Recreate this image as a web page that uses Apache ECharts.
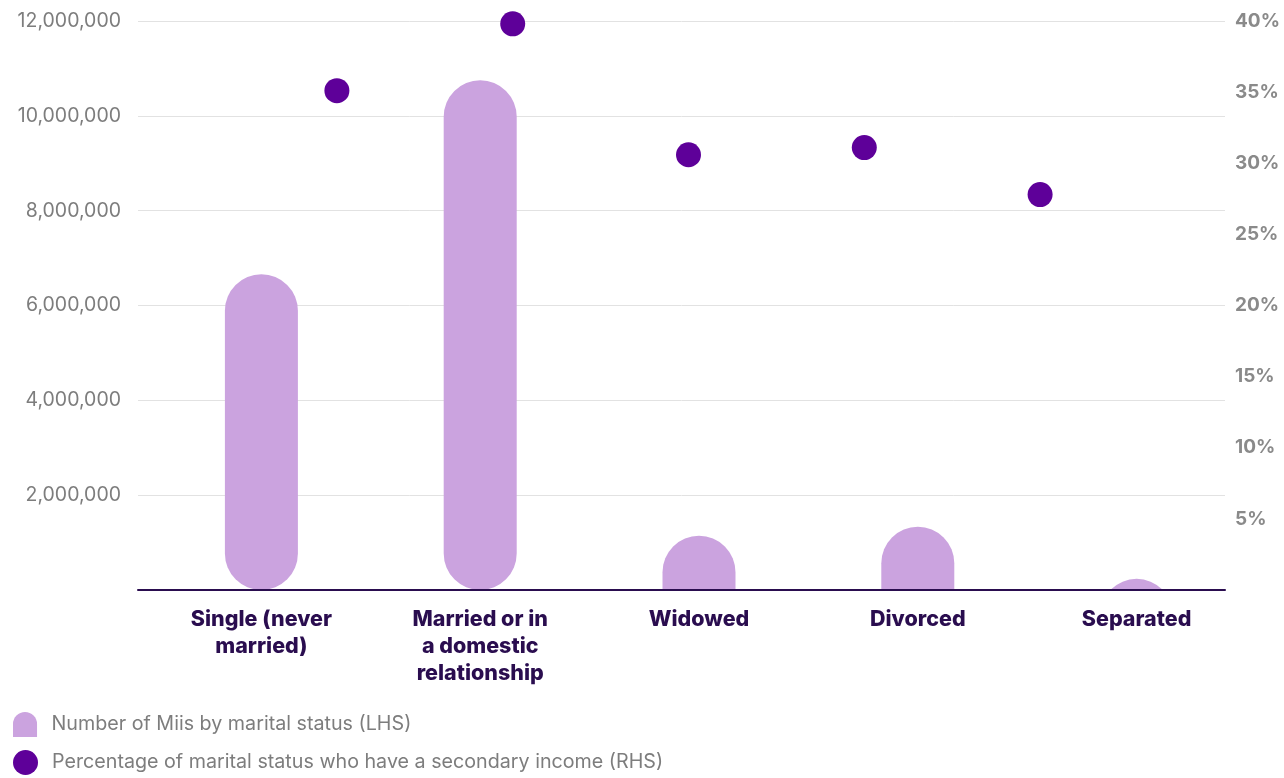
<!DOCTYPE html>
<html>
<head>
<meta charset="utf-8">
<script src="https://cdn.jsdelivr.net/npm/echarts@6/dist/echarts.min.js"></script>
<style>
  html, body { margin: 0; padding: 0; background: #ffffff; }
  #chart { width: 1284px; height: 778px; }
</style>
</head>
<body>
<div id="chart"></div>
<script>
// Marital status categories (label lines broken as displayed)
const categories = [
  'Single (never\nmarried)',
  'Married or in\na domestic\nrelationship',
  'Widowed',
  'Divorced',
  'Separated'
];

// Number of Miis in each marital status (left axis)
const miiCounts = [6660000, 10750000, 1145000, 1335000, 235000];

// Share of each marital status with a secondary income, in % (right axis)
const secondaryIncomeShare = [35.1, 39.8, 30.6, 31.1, 27.8];

// Axis ranges
const countAxis = { min: 0, max: 12000000, interval: 2000000 };
const shareAxis = { min: 0, max: 40, interval: 5 };

const seriesNames = [
  'Number of Miis by marital status (LHS)',
  'Percentage of marital status who have a secondary income (RHS)'
];

const BAR_COLOR = '#cba3df';
const DOT_COLOR = '#5e0099';
const INK = '#2a0d4f';
const GREY = '#7d7d7d';
const FONT = 'Inter, "Noto Sans", sans-serif';
const BAR_WIDTH = 73;

const chart = echarts.init(document.getElementById('chart'), null, { renderer: 'canvas' });

// Pill-shaped bar: fully rounded when tall enough, otherwise a round cap
// cut off by the baseline.
function renderPill(params, api) {
  const idx = api.value(0);
  const base = api.coord([idx, 0]);
  const top = api.coord([idx, api.value(1)]);
  const r = BAR_WIDTH / 2;
  const h = base[1] - top[1];
  let shape;
  if (h >= 2 * r) {
    shape = { x: top[0] - r, y: top[1], width: 2 * r, height: h, r: r };
  } else {
    shape = { x: top[0] - r, y: top[1], width: 2 * r, height: Math.max(h, r), r: [r, r, 0, 0] };
  }
  const cs = params.coordSys;
  return {
    type: 'rect',
    shape: shape,
    style: { fill: api.visual('color') },
    clipPath: { type: 'rect', shape: { x: cs.x, y: cs.y, width: cs.width, height: cs.height } }
  };
}

const legendText = { color: GREY, fontSize: 19.7, fontFamily: FONT, padding: [0, 0, 0, 9] };

const option = {
  backgroundColor: '#ffffff',
  animation: false,
  textStyle: { fontFamily: FONT },
  grid: [
    { left: 138, right: 59, top: 21, bottom: 188 },      // axes frame
    { left: 152, width: 1094, top: 21, bottom: 188 },    // bars
    { left: 249, width: 879, top: 21, bottom: 188 }      // dots
  ],
  legend: [
    {
      left: 13, top: 712, padding: 0, itemWidth: 25, itemHeight: 25,
      selectedMode: false, textStyle: legendText,
      data: [{ name: seriesNames[0], icon: 'path://M0,12.5 A12.5,12.5 0 0,1 25,12.5 L25,26 L0,26 Z' }]
    },
    {
      left: 13, top: 750, padding: 0, itemWidth: 25, itemHeight: 25,
      selectedMode: false, textStyle: legendText,
      data: [{ name: seriesNames[1], icon: 'circle' }]
    }
  ],
  xAxis: [
    {
      gridIndex: 0, type: 'value', min: 0, max: 1, z: 5,
      axisLine: { show: true, lineStyle: { color: INK, width: 2 } },
      axisTick: { show: false }, axisLabel: { show: false }, splitLine: { show: false }
    },
    {
      gridIndex: 1, type: 'category', data: categories,
      axisLine: { show: false }, axisTick: { show: false },
      axisLabel: {
        margin: 16, color: INK, fontSize: 21.5, fontWeight: 800,
        lineHeight: 27, fontFamily: FONT, interval: 0, align: 'center'
      }
    },
    { gridIndex: 2, type: 'category', data: categories, show: false }
  ],
  yAxis: [
    {
      gridIndex: 0, type: 'value', position: 'left',
      min: countAxis.min, max: countAxis.max, interval: countAxis.interval,
      axisLine: { show: false }, axisTick: { show: false },
      axisLabel: {
        showMinLabel: false, margin: 17, color: GREY, fontSize: 19.5, fontFamily: FONT,
        formatter: v => v.toLocaleString('en-US')
      },
      splitLine: { show: true, lineStyle: { color: '#e2e2e2', width: 1 } }
    },
    {
      gridIndex: 0, type: 'value', position: 'right',
      min: shareAxis.min, max: shareAxis.max, interval: shareAxis.interval,
      axisLine: { show: false }, axisTick: { show: false },
      axisLabel: {
        showMinLabel: false, margin: 10, color: '#8a8a8a', fontSize: 19, fontWeight: 700,
        fontFamily: FONT, formatter: '{value}%'
      },
      splitLine: { show: false }
    },
    { gridIndex: 1, type: 'value', min: countAxis.min, max: countAxis.max, show: false },
    { gridIndex: 2, type: 'value', min: shareAxis.min, max: shareAxis.max, show: false }
  ],
  series: [
    {
      name: seriesNames[0],
      type: 'custom',
      xAxisIndex: 1,
      yAxisIndex: 2,
      itemStyle: { color: BAR_COLOR },
      encode: { x: 0, y: 1 },
      renderItem: renderPill,
      data: miiCounts.map((v, i) => [i, v])
    },
    {
      name: seriesNames[1],
      type: 'scatter',
      xAxisIndex: 2,
      yAxisIndex: 3,
      symbol: 'circle',
      symbolSize: 25,
      itemStyle: { color: DOT_COLOR, opacity: 1 },
      z: 4,
      data: secondaryIncomeShare
    }
  ]
};

chart.setOption(option);
</script>
</body>
</html>
